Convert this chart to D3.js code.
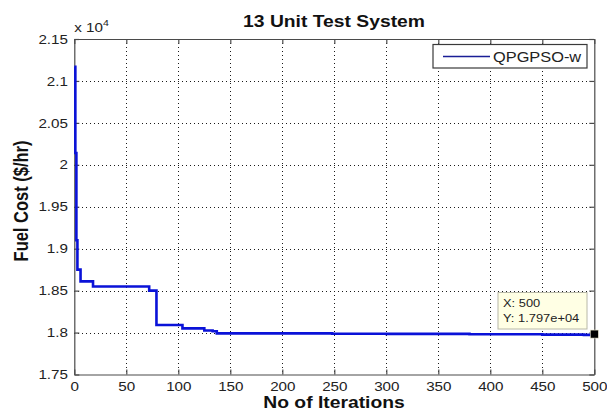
<!DOCTYPE html>
<html>
<head>
<meta charset="utf-8">
<script src="https://cdn.jsdelivr.net/npm/d3@7"></script>
<style>
  html, body { margin: 0; background: #fff; }
  text { font-family: "Liberation Sans", Arial, Helvetica, sans-serif; }
</style>
</head>
<body>
<svg id="chart" width="607" height="411"></svg>
<script>
// Best fuel cost per iteration (breakpoints of a step curve), in $/hr
const iterations = [0, 1, 2, 3, 6, 18, 72, 79, 104, 125, 133, 137, 248, 300, 380, 450, 490, 500];
const fuelCost   = [21170, 20140, 19100, 18750, 18610, 18550, 18500, 18090, 18050, 18025, 18015, 17990, 17986, 17984, 17980, 17976, 17972, 17970];

const xTicks = [0, 50, 100, 150, 200, 250, 300, 350, 400, 450, 500];
const yTicks = [17500, 18000, 18500, 19000, 19500, 20000, 20500, 21000, 21500];
const yTickLabels = ["1.75", "1.8", "1.85", "1.9", "1.95", "2", "2.05", "2.1", "2.15"];
const seriesName = "QPGPSO-w";

const SX = 1.17;               // horizontal text stretch
const svg = d3.select("#chart");
const L = 74.3, R = 594.3, T = 39, B = 374.5;

const x = d3.scaleLinear().domain([0, 500]).range([L, R]);
const y = d3.scaleLinear().domain([17500, 21500]).range([B, T]);
const px = v => Math.round(v) + 0.5;

// dotted grid
const grid = svg.append("g").attr("stroke", "#1a1a1a").attr("stroke-width", 1)
  .attr("stroke-dasharray", "1,3").attr("fill", "none").attr("shape-rendering", "crispEdges");
xTicks.slice(1, -1).forEach(t => grid.append("line")
  .attr("x1", px(x(t))).attr("x2", px(x(t))).attr("y1", T).attr("y2", B));
yTicks.slice(1, -1).forEach(t => grid.append("line")
  .attr("x1", L).attr("x2", R).attr("y1", px(y(t))).attr("y2", px(y(t))));

// axes (ticks point inward on all four sides)
const axisColor = "#4a4a4a";
function styleAxis(g) {
  g.selectAll("path, line").attr("stroke", axisColor).attr("stroke-width", 1.2);
  g.selectAll("text").attr("fill", "#222").attr("font-size", 13);
}
const labelOf = d => yTickLabels[yTicks.indexOf(d)];

const xAxis = svg.append("g").attr("transform", `translate(0,${B})`)
  .call(d3.axisBottom(x).tickValues(xTicks).tickSizeInner(-5).tickSizeOuter(0).tickPadding(7))
  .call(styleAxis);
xAxis.selectAll("text").attr("transform", `scale(${SX},1)`);

const yAxis = svg.append("g").attr("transform", `translate(${L},0)`)
  .call(d3.axisLeft(y).tickValues(yTicks).tickFormat(labelOf).tickSizeInner(-5).tickSizeOuter(0).tickPadding(5.4))
  .call(styleAxis);
yAxis.selectAll("text").attr("transform", `scale(${SX},1)`);

svg.append("g").attr("transform", `translate(0,${T})`)
  .call(d3.axisTop(x).tickValues(xTicks).tickSizeInner(-5).tickSizeOuter(0).tickFormat(""))
  .call(styleAxis);
svg.append("g").attr("transform", `translate(${R},0)`)
  .call(d3.axisRight(y).tickValues(yTicks).tickSizeInner(-5).tickSizeOuter(0).tickFormat(""))
  .call(styleAxis);

// exponent note
const expo = svg.append("text").attr("transform", `translate(${L},31.5) scale(${SX},1)`)
  .attr("font-size", 13).attr("fill", "#222");
expo.append("tspan").text("x 10");
expo.append("tspan").attr("font-size", 9).attr("dy", -6).text("4");

// series
const pts = iterations.map((d, i) => [d, fuelCost[i]]);
svg.append("path").datum(pts)
  .attr("fill", "none").attr("stroke", "#0a12d8").attr("stroke-width", 2.6)
  .attr("d", d3.line().x(d => x(d[0])).y(d => y(d[1])).curve(d3.curveStepAfter));

// data tip on the last point
const last = pts[pts.length - 1];
svg.append("rect").attr("x", x(last[0]) - 4).attr("y", y(last[1]) - 5)
  .attr("width", 8).attr("height", 8).attr("fill", "#000").attr("stroke", "#e8e4c8").attr("stroke-width", 0.6);
const tipG = svg.append("g");
tipG.append("rect").attr("x", 498).attr("y", 292.5).attr("width", 89).attr("height", 36.5)
  .attr("fill", "#ffffe4").attr("stroke", "#b8b8a8").attr("stroke-width", 1);
tipG.append("text").attr("transform", `translate(503,307) scale(${SX},1)`)
  .attr("font-size", 11).attr("fill", "#222").text(`X: ${last[0]}`);
tipG.append("text").attr("transform", `translate(503,321.5) scale(${SX},1)`)
  .attr("font-size", 11).attr("fill", "#222").text(`Y: ${(last[1] / 1e4).toFixed(3)}e+04`);

// legend
const lg = svg.append("g");
lg.append("rect").attr("x", 433).attr("y", 44.5).attr("width", 154).attr("height", 23.5)
  .attr("fill", "#fff").attr("stroke", "#3a3a3a").attr("stroke-width", 1.2);
lg.append("line").attr("x1", 443).attr("x2", 490).attr("y1", 56.5).attr("y2", 56.5)
  .attr("stroke", "#1a1e96").attr("stroke-width", 1.6);
lg.append("text").attr("transform", `translate(493,61.5) scale(${SX},1)`)
  .attr("font-size", 14).attr("fill", "#222").text(seriesName);

// title and axis labels
svg.append("text").attr("transform", `translate(334,27) scale(${SX},1)`)
  .attr("text-anchor", "middle").attr("font-size", 16.5).attr("font-weight", "bold")
  .attr("fill", "#111").text("13 Unit Test System");
svg.append("text").attr("transform", `translate(334,408) scale(${SX},1)`)
  .attr("text-anchor", "middle").attr("font-size", 16.5).attr("font-weight", "bold")
  .attr("fill", "#111").text("No of Iterations");
svg.append("text").attr("transform", `translate(28,201) rotate(-90) scale(1,${SX})`)
  .attr("text-anchor", "middle").attr("font-size", 16.5).attr("font-weight", "bold")
  .attr("fill", "#111").text("Fuel Cost ($/hr)");
</script>
</body>
</html>
